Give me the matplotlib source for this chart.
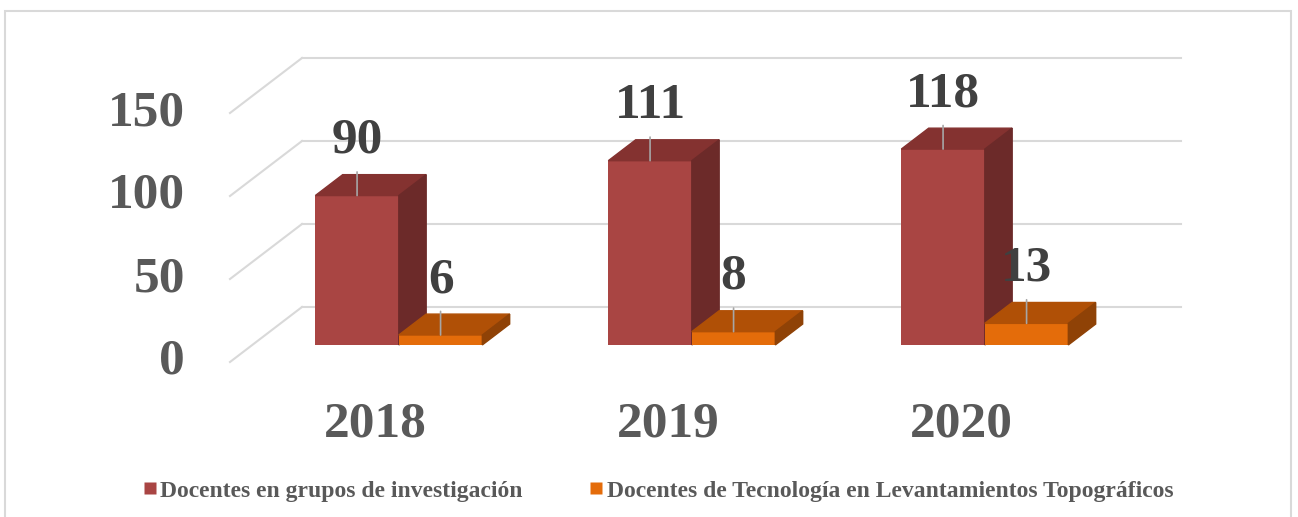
import matplotlib.pyplot as plt
from matplotlib.patches import Polygon, Rectangle
from matplotlib.lines import Line2D

plt.rcParams['font.family'] = ['Liberation Serif', 'DejaVu Serif']
plt.rcParams['font.weight'] = 'bold'

years = ['2018', '2019', '2020']
investigacion = [90, 111, 118]
topografia = [6, 8, 13]
series_names = ['Docentes en grupos de investigación',
                'Docentes de Tecnología en Levantamientos Topográficos']
y_ticks = [0, 50, 100, 150]

W, H = 1298, 517
fig = plt.figure(figsize=(W / 100, H / 100), dpi=100)
fig.patch.set_facecolor('white')

# front plane of the floor/walls in pixels
x0_px, x1_px = 230, 1109
y0_px, y1_px = 362, 113
ax = fig.add_axes([x0_px / W, 1 - y0_px / H, (x1_px - x0_px) / W, (y0_px - y1_px) / H])
ax.set_xlim(0, 3)
ax.set_ylim(0, 150)
ax.set_axis_off()

px_x = (x1_px - x0_px) / 3.0
px_y = (y0_px - y1_px) / 150.0
DX = 72 / px_x          # full depth offset in data units
DY = 55 / px_y
d0, d1 = 0.31, 0.69     # bar depth range
bw = 0.285

grid_c = '#D9D9D9'
for v in y_ticks:
    ax.plot([0, DX], [v, v + DY], color=grid_c, lw=1.5, zorder=1, clip_on=False)
    ax.plot([DX, 3 + DX], [v + DY, v + DY], color=grid_c, lw=1.5, zorder=1, clip_on=False)

colors = [('#A94543', '#843230', '#6C2A29'), ('#E46C0A', '#B05006', '#8F4206')]


def draw_bar(xl, val, cols, z):
    front, top, side = cols
    fx, fy = xl + d0 * DX, d0 * DY
    bx, by = xl + d1 * DX, d1 * DY
    ax.bar(fx, val, width=bw, bottom=fy, align='edge', color=front,
           zorder=z, clip_on=False)
    ax.add_patch(Polygon([(fx, fy + val), (fx + bw, fy + val),
                          (bx + bw, by + val), (bx, by + val)],
                         closed=True, color=top, zorder=z, clip_on=False))
    ax.add_patch(Polygon([(fx + bw, fy), (fx + bw, fy + val),
                          (bx + bw, by + val), (bx + bw, by)],
                         closed=True, color=side, zorder=z, clip_on=False))
    # value label with leader line
    cx, cy = fx + bw / 2, fy + val
    ax.annotate(str(val), xy=(cx, cy), xytext=(0, 23), textcoords='offset points',
                ha='center', va='bottom', fontsize=37, color='#404040',
                fontweight='bold', zorder=10,
                arrowprops=dict(arrowstyle='-', color='#A6A6A6', lw=1.2,
                                shrinkA=4, shrinkB=0))


for i in range(len(years)):
    c = i + 0.5
    draw_bar(c - bw, investigacion[i], colors[0], 3 + i * 2)
    draw_bar(c, topografia[i], colors[1], 4 + i * 2)

# axis labels drawn as text on the front plane
for v in y_ticks:
    ax.annotate(str(v), xy=(0, v), xytext=(-45 / 1.3889, 0), textcoords='offset points',
                ha='right', va='center', fontsize=37, color='#595959', fontweight='bold')
for i, yr in enumerate(years):
    ax.annotate(yr, xy=(i + 0.5, 0), xytext=(-1, -40 / 1.3889), textcoords='offset points',
                ha='center', va='top', fontsize=37, color='#595959', fontweight='bold')

handles = [Line2D([], [], marker='s', ls='none', markersize=8.5,
                  markerfacecolor=colors[k][0], markeredgecolor='none')
           for k in range(2)]
leg = fig.legend(handles, series_names, loc='center', ncol=2,
                 bbox_to_anchor=(658 / W, 1 - 491 / H), frameon=False,
                 fontsize=17, handlelength=0.6, handletextpad=0.15,
                 columnspacing=2.8, borderpad=0)
for t in leg.get_texts():
    t.set_color('#595959')
    t.set_fontweight('bold')

fig.add_artist(Rectangle((5 / W, -0.1), 1286 / W, 1.1 - 11 / H, transform=fig.transFigure,
                         fill=False, edgecolor='#D9D9D9', lw=1.5))

fig.savefig('out.png', dpi=100)
